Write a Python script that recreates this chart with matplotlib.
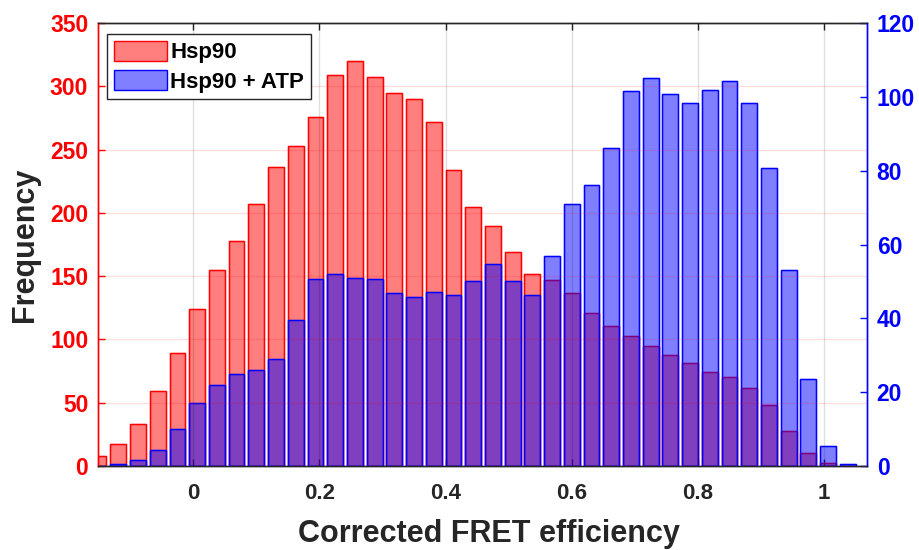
import numpy as np
import matplotlib
matplotlib.use("Agg")
import matplotlib.pyplot as plt
from matplotlib.lines import Line2D
from matplotlib.patches import Patch

plt.rcParams['font.family'] = ['Liberation Sans', 'DejaVu Sans']
plt.rcParams['font.weight'] = 'bold'

# Histogram bin centres (bin width 1/32)
bin_start = -0.15
bin_step = 0.03125
n_bins = 39
bin_centers = bin_start + bin_step * np.arange(n_bins)

# Counts per bin, Hsp90 alone (left axis)
hsp90 = [8, 17, 33, 59, 89, 124, 155, 178, 207, 236,
         253, 276, 309, 320, 307, 295, 290, 272, 234, 205,
         190, 169, 152, 147, 137, 121, 111, 103, 95, 88,
         81, 74, 70, 62, 48, 28, 10, 2, 0]

# Counts per bin, Hsp90 + ATP (right axis)
hsp90_atp = [0, 0.5, 1.5, 4.3, 10, 17, 22, 25, 26, 29,
             39.5, 50.6, 52, 51, 50.6, 46.8, 45.7, 47, 46.4, 50,
             54.6, 50, 46.4, 57, 71, 76, 86.2, 101.6, 105, 100.8,
             98.3, 101.8, 104.4, 98.3, 80.8, 53, 23.6, 5.4, 0.5]

x_ticks = [0, 0.2, 0.4, 0.6, 0.8, 1.0]
x_ticklabels = ['0', '0.2', '0.4', '0.6', '0.8', '1']
left_ticks = [0, 50, 100, 150, 200, 250, 300, 350]
right_ticks = [0, 20, 40, 60, 80, 100, 120]

RED = '#FF0000'
BLUE = '#0000FF'
AXC = '#262626'

fig = plt.figure(figsize=(9.2, 5.5), dpi=100)
ax = fig.add_axes([0.1065, 0.1527, 0.8359, 0.8055])
ax2 = ax.twinx()

bar_w = 0.8 * bin_step
ax.bar(bin_centers, hsp90, width=bar_w, color=RED, alpha=0.5,
       edgecolor=RED, linewidth=1.0, zorder=2)
ax.bar(bin_centers, hsp90, width=bar_w, facecolor='none',
       edgecolor=RED, linewidth=1.0, zorder=2.1)
ax2.bar(bin_centers, hsp90_atp, width=bar_w, color=BLUE, alpha=0.5,
        edgecolor=BLUE, linewidth=1.0, zorder=2)
ax2.bar(bin_centers, hsp90_atp, width=bar_w, facecolor='none',
        edgecolor=BLUE, linewidth=1.0, zorder=2.1)

xmin, xmax = -0.151, 1.068
ax.set_xlim(xmin, xmax)
ax.set_ylim(0, 350)
ax2.set_ylim(0, 120)

ax.set_xticks(x_ticks)
ax.set_xticklabels(x_ticklabels)
ax.set_yticks(left_ticks)
ax2.set_yticks(right_ticks)

# Grid drawn above the bars, faint
for xv in x_ticks:
    ax2.add_line(Line2D([xv, xv], [0, 1], transform=ax2.get_xaxis_transform(),
                        color='#000000', alpha=0.13, linewidth=1.0, zorder=5))
for yv in left_ticks[1:-1]:
    ax2.add_line(Line2D([0, 1], [yv, yv], transform=ax.get_yaxis_transform(),
                        color=RED, alpha=0.13, linewidth=1.0, zorder=5))

# Spines
for a in (ax, ax2):
    a.spines['top'].set_color(AXC)
    a.spines['bottom'].set_color(AXC)
    a.spines['top'].set_linewidth(1.0)
    a.spines['bottom'].set_linewidth(1.0)
    a.spines['left'].set_color(RED)
    a.spines['right'].set_color(BLUE)
    a.spines['left'].set_linewidth(1.0)
    a.spines['right'].set_linewidth(1.0)

ax.tick_params(axis='x', direction='in', length=5, width=1.0, color=AXC,
               top=True, bottom=True, labelsize=16, pad=12, labelcolor='#262626')
ax.tick_params(axis='y', direction='in', length=5, width=1.0, color=RED,
               labelsize=16.5, pad=7, labelcolor=RED)
ax2.tick_params(axis='y', direction='in', length=5, width=1.0, color=BLUE,
                labelsize=16.5, pad=7, labelcolor=BLUE)
for lbl in ax.get_xticklabels() + ax.get_yticklabels() + ax2.get_yticklabels():
    lbl.set_fontweight('bold')

ax.set_xlabel('Corrected FRET efficiency', fontsize=22, fontweight='bold',
              color='#262626', labelpad=11)
ax.xaxis.label.set_x(0.508)
ax.set_ylabel('Frequency', fontsize=22, fontweight='bold',
              color='#262626', labelpad=7)

handles = [Patch(facecolor=(1, 0, 0, 0.5), edgecolor=RED, linewidth=1.0),
           Patch(facecolor=(0, 0, 1, 0.5), edgecolor=BLUE, linewidth=1.0)]
leg = ax2.legend(handles, ['Hsp90', 'Hsp90 + ATP'], loc='upper left',
                 bbox_to_anchor=(0.0117, 0.975), borderaxespad=0,
                 prop={'weight': 'bold', 'size': 16},
                 handlelength=2.4, handleheight=1.0, handletextpad=0.15,
                 labelspacing=0.3, borderpad=0.3, fancybox=False,
                 framealpha=1, edgecolor=AXC)
leg.get_frame().set_linewidth(1.0)
leg.set_zorder(10)

fig.savefig('out.png', dpi=100)
